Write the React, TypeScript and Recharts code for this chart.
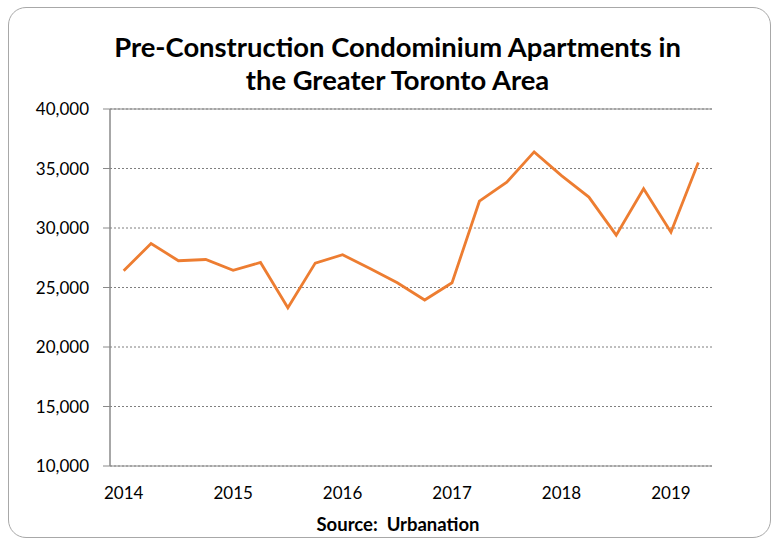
import React from "react";
import { LineChart, Line, XAxis, YAxis, CartesianGrid, ReferenceLine } from "recharts";

const quarters = [
  "2014 Q1", "2014 Q2", "2014 Q3", "2014 Q4",
  "2015 Q1", "2015 Q2", "2015 Q3", "2015 Q4",
  "2016 Q1", "2016 Q2", "2016 Q3", "2016 Q4",
  "2017 Q1", "2017 Q2", "2017 Q3", "2017 Q4",
  "2018 Q1", "2018 Q2", "2018 Q3", "2018 Q4",
  "2019 Q1", "2019 Q2",
];
const units = [
  26400, 28700, 27250, 27350,
  26450, 27100, 23300, 27050,
  27750, 26600, 25400, 23950,
  25400, 32250, 33850, 36400,
  34400, 32600, 29400, 33300,
  29650, 35500,
];
const yearLabels = ["2014", "2015", "2016", "2017", "2018", "2019"];
const yTicks = [10000, 15000, 20000, 25000, 30000, 35000, 40000];

const data = quarters.map((q, i) => ({ q, x: i + 0.5, v: units[i] }));
const boundaryTicks = quarters.map((_, i) => i).concat([quarters.length]);
const labelTicks = yearLabels.map((_, i) => i * 4 + 0.5);

const FONT = "Lato, 'Open Sans', sans-serif";

export default function App() {
  return (
    <div style={{ position: "absolute", left: 0, top: 0, width: 772, height: 539, background: "#fff", fontFamily: FONT, overflow: "hidden" }}>
      <div style={{ position: "absolute", left: 8, top: 7, width: 763, height: 531, border: "1.5px solid #a8a8a8", borderRadius: 18, boxSizing: "border-box" }} />
      <div style={{ position: "absolute", left: 0, top: 30, width: 795, textAlign: "center", fontWeight: 700, fontSize: 27.4, lineHeight: "33px", color: "#000" }}>
        Pre-Construction Condominium Apartments in<br />the Greater Toronto Area
      </div>
      <div style={{ position: "absolute", left: 0, top: 0 }}>
        <LineChart width={772} height={539} data={data} margin={{ top: 109, right: 60, bottom: 35, left: 30 }}>
          <CartesianGrid vertical={false} stroke="#7f7f7f" strokeDasharray="2 2" />
          <XAxis
            xAxisId="b"
            type="number"
            dataKey="x"
            domain={[0, quarters.length]}
            ticks={boundaryTicks}
            tick={false}
            tickSize={6}
            height={8}
            axisLine={{ stroke: "#8a8a8a" }}
            tickLine={{ stroke: "#8a8a8a" }}
            interval={0}
          />
          <XAxis
            xAxisId="l"
            type="number"
            dataKey="x"
            domain={[0, quarters.length]}
            ticks={labelTicks}
            tickFormatter={(v: number) => yearLabels[Math.round((v - 0.5) / 4)]}
            axisLine={false}
            tickLine={false}
            tickSize={0}
            tickMargin={13}
            height={30}
            interval={0}
            tick={{ fill: "#000", fontSize: 17, fontFamily: FONT }}
          />
          <YAxis
            domain={[10000, 40000]}
            ticks={yTicks}
            width={80}
            tickSize={7}
            tickMargin={14}
            interval={0}
            tickFormatter={(v: number) => v.toLocaleString("en-US")}
            axisLine={{ stroke: "#8a8a8a", strokeWidth: 1.5 }}
            tickLine={{ stroke: "#8a8a8a" }}
            tick={{ fill: "#000", fontSize: 17, fontFamily: FONT }}
          />
          <ReferenceLine y={40000} xAxisId="b" stroke="#8a8a8a" strokeWidth={1.2} />
          <Line
            xAxisId="b"
            type="linear"
            dataKey="v"
            stroke="#ED7D31"
            strokeWidth={2.8}
            dot={false}
            isAnimationActive={false}
          />
        </LineChart>
      </div>
      <div style={{ position: "absolute", left: 0, top: 512, width: 796, textAlign: "center", fontWeight: 700, fontSize: 18.5, lineHeight: "24px", color: "#000" }}>
        Source:&nbsp; Urbanation
      </div>
    </div>
  );
}
